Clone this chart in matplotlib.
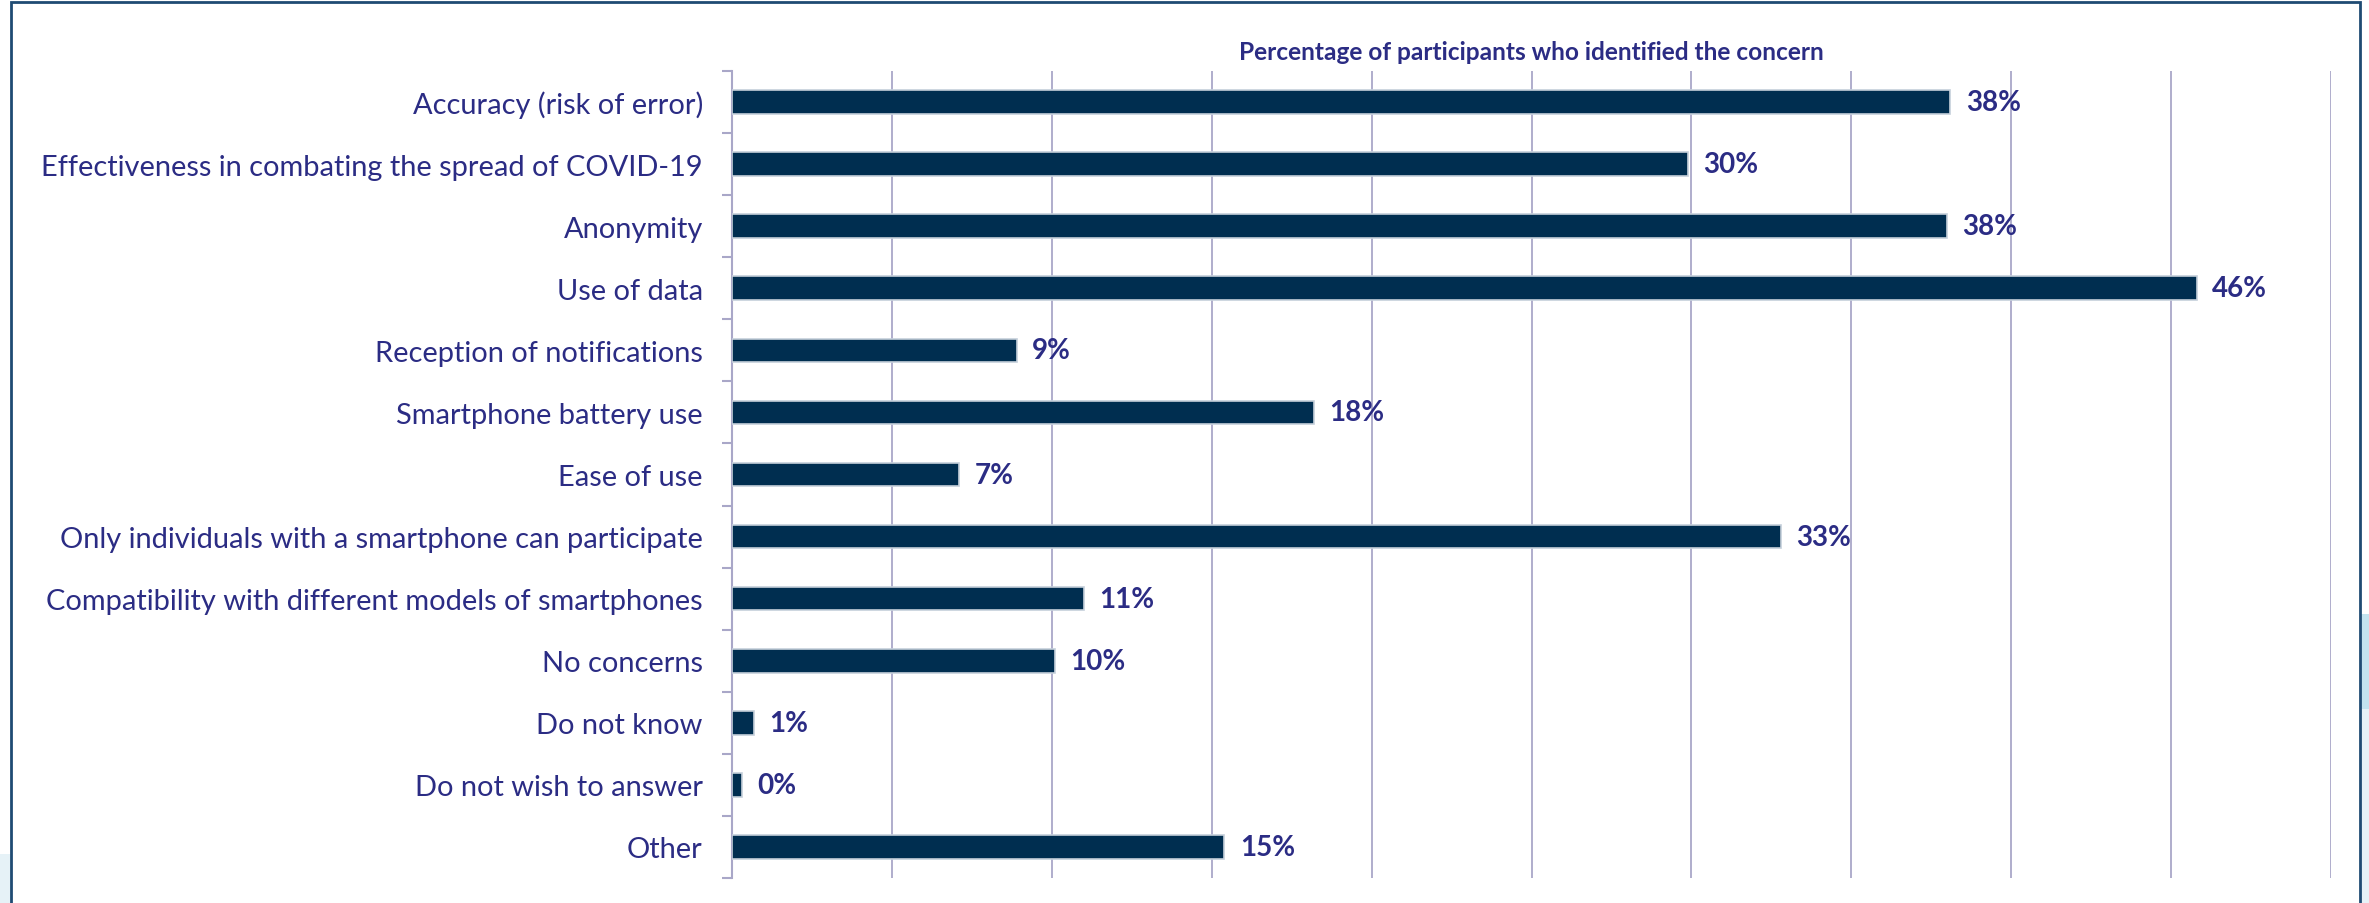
import matplotlib
matplotlib.use("Agg")
import matplotlib.pyplot as plt
from matplotlib.patches import Rectangle
import numpy as np

categories = [
    "Accuracy (risk of error)",
    "Effectiveness in combating the spread of COVID-19",
    "Anonymity",
    "Use of data",
    "Reception of notifications",
    "Smartphone battery use",
    "Ease of use",
    "Only individuals with a smartphone can participate",
    "Compatibility with different models of smartphones",
    "No concerns",
    "Do not know",
    "Do not wish to answer",
    "Other",
]
values = [38.1, 29.9, 38.0, 45.8, 8.9, 18.2, 7.1, 32.8, 11.0, 10.1, 0.7, 0.3, 15.4]
value_labels = ["38%", "30%", "38%", "46%", "9%", "18%", "7%", "33%", "11%", "10%", "1%", "0%", "15%"]
title = "Percentage of participants who identified the concern"
x_ticks = [0, 5, 10, 15, 20, 25, 30, 35, 40, 45, 50]

FONT = "Lato"
TEXT_COLOR = "#2B2C84"
BAR_COLOR = "#002E50"
GRID_COLOR = "#A9A7C8"

W, H = 2369, 904
fig = plt.figure(figsize=(W / 100, H / 100), dpi=100)
fig.patch.set_facecolor("white")

# light blue background pieces outside frame
fig.add_artist(Rectangle((2361 / W, 0), 1 - 2361 / W, 1 - 615 / H,
                         transform=fig.transFigure, facecolor="#E6F2F7", edgecolor="none", zorder=0))
fig.add_artist(Rectangle((2361 / W, 1 - 710 / H), 1 - 2361 / W, 95 / H,
                         transform=fig.transFigure, facecolor="#C3E3EF", edgecolor="none", zorder=0))
fig.add_artist(Rectangle((0, 0), 11 / W, 1 - 855 / H,
                         transform=fig.transFigure, facecolor="#E6F2F7", edgecolor="none", zorder=0))
# frame
fig.add_artist(Rectangle((11 / W, -0.02), (2360 - 11) / W, 1.02 - 3 / H,
                         transform=fig.transFigure, facecolor="none", edgecolor="#1F4B73",
                         linewidth=2, zorder=5))

left, right = 732 / W, 2331 / W
top, bottom = 1 - 72 / H, 1 - 879 / H
ax = fig.add_axes([left, bottom, right - left, top - bottom])

y = np.arange(len(categories))
ax.barh(y, values, height=0.38, color=BAR_COLOR, edgecolor="#C5CFDA", linewidth=1.2, zorder=3)

ax.set_xlim(0, 50)
ax.set_ylim(len(categories) - 0.5, -0.5)
ax.set_xticks(x_ticks)
ax.set_xticklabels([])
ax.tick_params(axis="x", length=0)
ax.grid(axis="x", color=GRID_COLOR, linewidth=1.3, zorder=0)
ax.set_axisbelow(True)

for s in ["top", "right", "bottom"]:
    ax.spines[s].set_visible(False)
ax.spines["left"].set_color(GRID_COLOR)
ax.spines["left"].set_linewidth(1.5)

ax.set_yticks(np.arange(len(categories) + 1) - 0.5)
ax.set_yticklabels([])
ax.tick_params(axis="y", which="major", length=7, color=GRID_COLOR, width=1.5)
ax.set_yticks(y, minor=True)
ax.set_yticklabels(categories, minor=True, fontsize=20.85, color=TEXT_COLOR, fontfamily=FONT)
ax.tick_params(axis="y", which="minor", length=0, pad=21)

for yi, v, lab in zip(y, values, value_labels):
    ax.annotate(lab, (v, yi), xytext=(11, 0), textcoords="offset points",
                va="center", ha="left", fontsize=20, fontweight="bold",
                color=TEXT_COLOR, fontfamily=FONT, zorder=4)

fig.text(1531 / W, 1 - 52 / H, title, ha="center", va="center", fontsize=17.6,
         fontweight="bold", color=TEXT_COLOR, fontfamily=FONT)

fig.savefig("out.png", dpi=100, facecolor=fig.get_facecolor())
